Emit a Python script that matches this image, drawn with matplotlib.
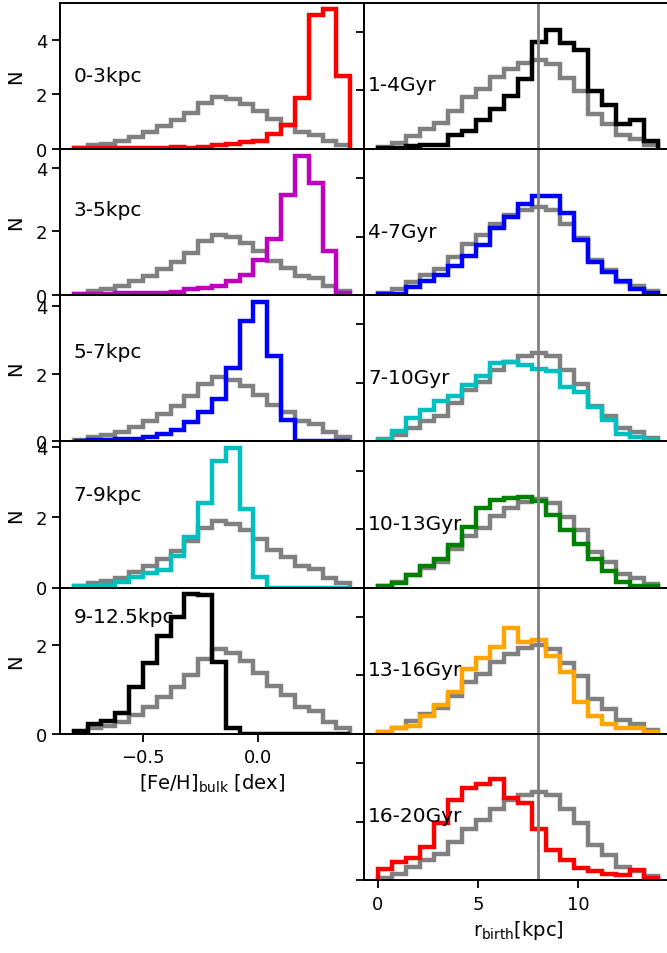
import matplotlib.pyplot as plt
import numpy as np

plt.rcParams["font.size"] = 13
plt.rcParams["axes.linewidth"] = 1.4
for a in ("xtick", "ytick"):
    plt.rcParams[a + ".major.size"] = 5.5
    plt.rcParams[a + ".major.width"] = 1.3
plt.rcParams["xtick.major.pad"] = 5
plt.rcParams["ytick.major.pad"] = 3.5

feh_edges = np.linspace(-0.8, 0.4, 21)
rb_edges = np.linspace(0.0, 14.0, 21)

# [Fe/H]_bulk density: whole sample and per present-day radius bin
feh_all = [0.04, 0.12, 0.18, 0.27, 0.43, 0.61, 0.82, 1.04, 1.33, 1.69,
           1.90, 1.82, 1.64, 1.37, 1.08, 0.86, 0.60, 0.52, 0.27, 0.12]
feh_r0_3 = [0.01, 0.02, 0.02, 0.02, 0.03, 0.03, 0.03, 0.05, 0.04, 0.08,
            0.12, 0.17, 0.25, 0.28, 0.53, 0.88, 1.86, 4.93, 5.12, 2.67]
feh_r3_5 = [0.02, 0.02, 0.03, 0.05, 0.05, 0.06, 0.06, 0.10, 0.19, 0.22,
            0.29, 0.43, 0.63, 1.10, 1.76, 3.14, 4.38, 3.51, 1.39, 0.06]
feh_r5_7 = [0.02, 0.03, 0.04, 0.06, 0.08, 0.13, 0.21, 0.33, 0.57, 0.87,
            1.26, 2.18, 3.56, 4.12, 2.51, 0.64, 0.0, 0.0, 0.0, 0.0]
feh_r7_9 = [0.03, 0.05, 0.08, 0.16, 0.29, 0.40, 0.51, 0.90, 1.43, 2.40,
            3.61, 3.97, 2.23, 0.30, 0.0, 0.0, 0.0, 0.0, 0.0, 0.0]
feh_r9_12 = [0.06, 0.21, 0.28, 0.47, 1.04, 1.60, 2.19, 2.62, 3.13, 3.12,
             1.61, 0.14, 0.0, 0.0, 0.0, 0.0, 0.0, 0.0, 0.0, 0.0]

r_hists = [feh_r0_3, feh_r3_5, feh_r5_7, feh_r7_9, feh_r9_12]
r_labels = ["0-3kpc", "3-5kpc", "5-7kpc", "7-9kpc", "9-12.5kpc"]
r_colors = ["r", "m", "b", "c", "k"]

# birth radius density: whole sample and per age bin
rb_all = [0.003, 0.010, 0.022, 0.034, 0.044, 0.065, 0.088, 0.102, 0.122, 0.136,
          0.146, 0.151, 0.145, 0.121, 0.098, 0.060, 0.043, 0.023, 0.016, 0.006]
rb_1_4 = [0.002, 0.002, 0.004, 0.006, 0.007, 0.023, 0.031, 0.050, 0.068, 0.090,
          0.120, 0.182, 0.203, 0.180, 0.168, 0.099, 0.074, 0.043, 0.050, 0.014]
rb_4_7 = [0.001, 0.002, 0.014, 0.024, 0.035, 0.050, 0.067, 0.086, 0.114, 0.134,
          0.156, 0.170, 0.170, 0.141, 0.094, 0.057, 0.040, 0.024, 0.011, 0.003]
rb_7_10 = [0.002, 0.017, 0.040, 0.054, 0.069, 0.077, 0.097, 0.111, 0.133, 0.135,
           0.131, 0.124, 0.120, 0.093, 0.084, 0.059, 0.037, 0.013, 0.007, 0.002]
rb_10_13 = [0.003, 0.007, 0.022, 0.036, 0.049, 0.072, 0.104, 0.136, 0.150, 0.153,
            0.154, 0.148, 0.124, 0.098, 0.074, 0.049, 0.029, 0.009, 0.003, 0.002]
rb_13_16 = [0.003, 0.009, 0.014, 0.031, 0.049, 0.071, 0.111, 0.130, 0.149, 0.181,
            0.157, 0.160, 0.133, 0.105, 0.055, 0.030, 0.017, 0.009, 0.009, 0.003]
rb_16_20 = [0.018, 0.031, 0.038, 0.056, 0.098, 0.136, 0.157, 0.164, 0.173, 0.141,
            0.132, 0.088, 0.051, 0.035, 0.021, 0.015, 0.011, 0.009, 0.017, 0.003]

age_hists = [rb_1_4, rb_4_7, rb_7_10, rb_10_13, rb_13_16, rb_16_20]
age_labels = ["1-4Gyr", "4-7Gyr", "7-10Gyr", "10-13Gyr", "13-16Gyr", "16-20Gyr"]
age_colors = ["k", "b", "c", "g", "orange", "r"]
r_sun = 8.0

fig = plt.figure(figsize=(6.67, 9.54), dpi=100)
W, H = 667.0, 954.0
top, row_h = 3.5, 146.25


def panel_rect(x0, x1, i):
    return [x0 / W, 1 - (top + row_h * (i + 1)) / H, (x1 - x0) / W, row_h / H]


# left column: metallicity by radius
for i, (hist, lab, col) in enumerate(zip(r_hists, r_labels, r_colors)):
    ax = fig.add_axes(panel_rect(60, 364, i))
    ax.stairs(feh_all, feh_edges, color="grey", lw=3.2)
    ax.stairs(hist, feh_edges, color=col, lw=3.2)
    ax.text(-0.8, 2.5, lab, fontsize=14.5)
    ax.set_xlim(-0.86, 0.46)
    ax.set_ylim(0, max(max(hist), max(feh_all)) * 1.05)
    ax.set_yticks([0, 2, 4] if i < 4 else [0, 2])
    ax.set_xticks([-0.5, 0.0])
    ax.set_ylabel("N", fontsize=14, labelpad=8)
    if i < 4:
        ax.tick_params(labelbottom=False)
    else:
        ax.set_xlabel(r"[Fe/H]$_{\rm bulk}$ [dex]", fontsize=14)

# right column: birth radius by age
for i, (hist, lab, col) in enumerate(zip(age_hists, age_labels, age_colors)):
    ax = fig.add_axes(panel_rect(364, 672, i))
    ax.stairs(rb_all, rb_edges, color="grey", lw=3.2)
    ax.stairs(hist, rb_edges, color=col, lw=3.2)
    ax.axvline(r_sun, color="grey", lw=2)
    ax.text(-0.5, 0.1, lab, fontsize=14.5)
    ax.set_xlim(-0.7, 14.7)
    ax.set_ylim(0, 0.25)
    ax.set_yticks([0, 0.1, 0.2])
    ax.set_xticks([0, 5, 10])
    ax.tick_params(labelleft=False)
    if i < 5:
        ax.tick_params(labelbottom=False)
    else:
        ax.set_xlabel(r"r$_{\rm birth}$[kpc]", fontsize=14)

fig.savefig("out.png", dpi=100)
